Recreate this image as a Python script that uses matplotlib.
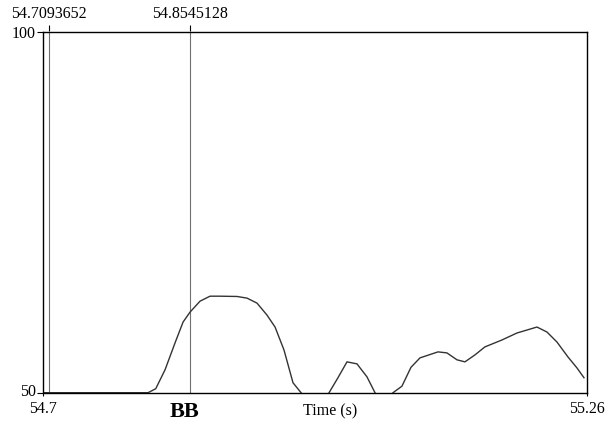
import numpy as np
import matplotlib.pyplot as plt
from matplotlib import transforms

plt.rcParams['font.family'] = ['Liberation Serif', 'DejaVu Serif']

# pitch-like contour, NaN separates the voiced stretches
time = [54.703, 54.8113,
        54.8113, 54.8192, 54.8288, 54.8391, 54.8474, 54.8546, 54.8649, 54.8752,
        54.8855, 54.9031, 54.9134, 54.9237, 54.9340, 54.9423, 54.9515, 54.9608,
        54.9691, np.nan,
        54.9980, 55.0072, 55.0165, 55.0268, 55.0371, 55.0454, np.nan,
        55.0640, 55.0732, 55.0825, 55.0918, 55.1104, 55.1196, 55.1300, 55.1382,
        55.1485, 55.1588, 55.1764, 55.1918, 55.2125, 55.2228, 55.2331, 55.2444,
        55.2537, 55.2610]
value = [50, 50,
         50, 50.55, 53.17, 56.89, 59.78, 61.16, 62.67, 63.36,
         63.36, 63.32, 63.09, 62.40, 60.74, 59.09, 55.92, 51.38,
         50, np.nan,
         50, 52.07, 54.27, 53.99, 52.20, 50, np.nan,
         50, 50.9, 53.51, 54.82, 55.65, 55.51, 54.55, 54.27,
         55.23, 56.34, 57.30, 58.26, 59.09, 58.40, 57.02, 54.96,
         53.44, 52.07]

marks = [54.7093652, 54.8545128]
mark_labels = ['54.7093652', '54.8545128']
x_range = [54.7029, 55.2636]
x_labels = ['54.7', '55.26']
y_range = [50, 100]
interval_label = 'BB'
interval_pos = 54.8484

fig = plt.figure(figsize=(6.07, 4.21), dpi=100)
ax = fig.add_axes([43 / 607, 28.3 / 421, 543.5 / 607, 361.2 / 421])

for m in marks:
    ax.axvline(m, color='#707070', linewidth=0.8)
ax.plot(time, value, color='#333333', linewidth=1.0)

ax.set_xlim(x_range)
ax.set_ylim(y_range)
ax.set_xticks(x_range)
ax.set_xticklabels(x_labels)
ax.set_yticks(y_range)
ax.set_yticklabels(['50', '100'])
ax.tick_params(axis='y', direction='out', length=4, width=0.8,
               labelsize=11.5, pad=1)
ax.tick_params(axis='x', direction='out', length=2, width=0.8,
               labelsize=11.5, pad=4)

# nudge the lower y label up a little so it doesn't sit on "54.7"
lab50 = ax.get_yticklabels()[0]
lab50.set_transform(lab50.get_transform() +
                    transforms.ScaledTranslation(0, 2.5 / 100, fig.dpi_scale_trans))

top = ax.secondary_xaxis('top')
top.set_xticks(marks)
top.set_xticklabels(mark_labels)
top.tick_params(direction='out', length=4, width=0.8, labelsize=11.5, pad=3)
top.spines['top'].set_visible(False)

for s in ax.spines.values():
    s.set_linewidth(1.0)
    s.set_color('black')

trans = transforms.blended_transform_factory(ax.transData, ax.transAxes)
ax.text(interval_pos, -0.068, interval_label, transform=trans, ha='center',
        va='baseline', fontsize=16, fontweight='bold')
ax.text(0.528, -0.064, 'Time (s)', transform=ax.transAxes, ha='center',
        va='baseline', fontsize=11.5)

fig.savefig('out.png', dpi=100)
